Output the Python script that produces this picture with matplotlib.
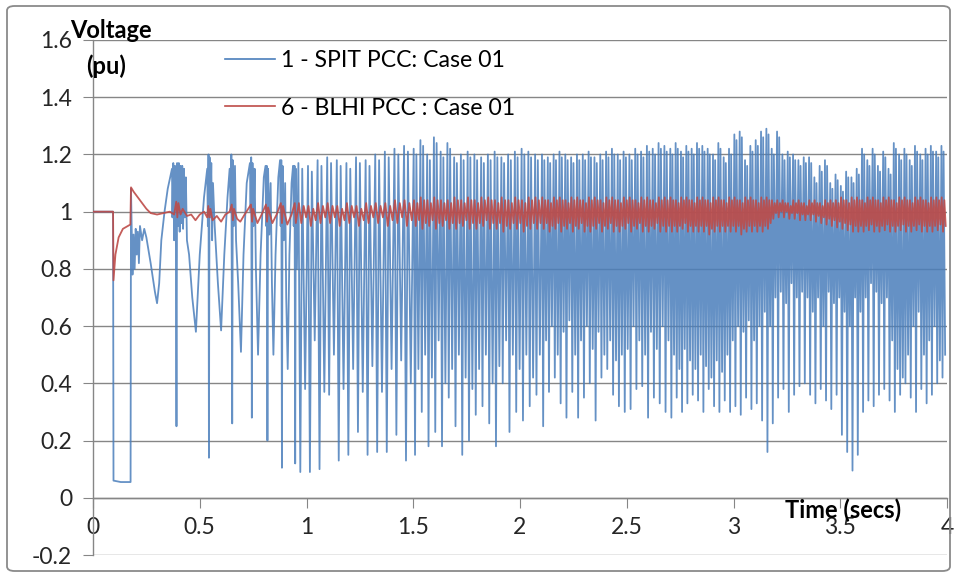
import numpy as np
import matplotlib
matplotlib.use("Agg")
import matplotlib.pyplot as plt
from matplotlib.patches import FancyBboxPatch

plt.rcParams['font.family'] = ['Lato', 'DejaVu Sans']

# ---------------- DATA ----------------
series_names = ["1 - SPIT PCC: Case 01", "6 - BLHI PCC : Case 01"]
x_ticks = [0, 0.5, 1, 1.5, 2, 2.5, 3, 3.5, 4]
x_tick_labels = ["0", "0.5", "1", "1.5", "2", "2.5", "3", "3.5", "4"]
y_ticks = [-0.2, 0, 0.2, 0.4, 0.6, 0.8, 1.0, 1.2, 1.4, 1.6]
y_tick_labels = ["-0.2", "0", "0.2", "0.4", "0.6", "0.8", "1", "1.2", "1.4", "1.6"]

# SPIT PCC (blue) - start-up transient, read point by point
spit_early_t = [0, 0.094, 0.096, 0.13, 0.176, 0.178, 0.185, 0.19, 0.195, 0.2, 0.205, 0.21,
                0.215, 0.22, 0.23, 0.24, 0.25, 0.27, 0.29, 0.30, 0.31, 0.32, 0.335, 0.35, 0.37,
                0.372, 0.376, 0.38, 0.384, 0.388, 0.391, 0.394, 0.398, 0.402, 0.406, 0.41, 0.414,
                0.418, 0.422, 0.426, 0.43, 0.435, 0.44, 0.45, 0.465, 0.482,
                0.5, 0.52, 0.535, 0.538, 0.541, 0.543, 0.546, 0.55, 0.554, 0.558, 0.562, 0.57, 0.585, 0.6,
                0.615, 0.63, 0.64, 0.645, 0.648, 0.652, 0.655, 0.66, 0.665, 0.67, 0.68, 0.693,
                0.705, 0.72, 0.735, 0.738, 0.741, 0.744, 0.747, 0.752, 0.757, 0.763, 0.773,
                0.785, 0.8, 0.808, 0.811, 0.814, 0.817, 0.82, 0.826, 0.832, 0.838, 0.845,
                0.855, 0.868, 0.876, 0.879, 0.882, 0.885, 0.888, 0.894, 0.9, 0.905, 0.912,
                0.92, 0.93, 0.937, 0.94, 0.944, 0.947, 0.95, 0.955]
spit_early_v = [1.0, 1.0, 0.06, 0.055, 0.055, 1.08, 0.78, 0.92, 0.80, 0.94, 0.85, 0.93,
                0.82, 0.95, 0.90, 0.94, 0.91, 0.82, 0.72, 0.68, 0.75, 0.90, 1.0, 1.08, 1.15,
                0.98, 1.17, 0.90, 1.16, 0.97, 0.25, 1.17, 0.95, 1.17, 0.93, 1.16, 0.96,
                1.16, 0.94, 1.15, 0.98, 1.12, 0.90, 0.85, 0.70, 0.58,
                0.85, 1.05, 1.15, 0.95, 1.20, 0.14, 1.19, 0.98, 1.17, 0.90, 1.10, 0.95, 0.75, 0.585,
                0.85, 1.05, 1.15, 1.0, 1.20, 0.26, 1.18, 0.95, 1.16, 0.90, 0.75, 0.51,
                0.85, 1.10, 1.17, 1.0, 1.19, 0.28, 1.17, 0.95, 1.15, 0.80, 0.50,
                0.85, 1.12, 1.16, 0.95, 1.16, 0.20, 1.15, 0.92, 1.10, 0.75, 0.50,
                0.85, 1.12, 1.18, 0.95, 1.18, 0.105, 1.16, 0.90, 1.10, 0.70, 0.45,
                0.85, 1.10, 1.16, 0.95, 1.16, 0.12, 1.15, 0.80]

# BLHI PCC (red) - start-up transient
blhi_early_t = [0, 0.094, 0.096, 0.105, 0.12, 0.14, 0.175, 0.178, 0.19, 0.2, 0.22, 0.25, 0.27,
                0.3, 0.33, 0.36, 0.38, 0.39, 0.395, 0.4, 0.41, 0.42, 0.44, 0.46, 0.48, 0.5,
                0.52, 0.535, 0.54, 0.545, 0.55, 0.56, 0.58, 0.6, 0.62, 0.64, 0.65, 0.655,
                0.66, 0.675, 0.69, 0.71, 0.74, 0.745, 0.75, 0.77, 0.79, 0.81, 0.815, 0.82,
                0.84, 0.86, 0.88, 0.885, 0.89, 0.91, 0.93, 0.945, 0.95]
blhi_early_v = [1.0, 1.0, 0.76, 0.85, 0.91, 0.94, 0.955, 1.085, 1.07, 1.06, 1.04, 1.01, 0.995,
                0.99, 0.995, 1.0, 0.99, 1.035, 0.98, 1.03, 0.99, 1.01, 0.985, 0.99, 0.97, 0.99,
                1.0, 0.98, 1.02, 0.98, 1.01, 0.97, 0.985, 0.965, 0.99, 1.0, 1.025, 0.97,
                1.01, 0.975, 0.965, 0.99, 1.025, 0.965, 1.01, 0.96, 0.99, 1.025, 0.965, 1.015,
                0.96, 0.99, 1.03, 0.96, 1.02, 0.955, 0.99, 1.03, 0.96]

# Sustained oscillation, five stretches: start time and cycle length of each
seg_start = [0.962, 1.502, 2.103, 2.704, 3.354]
seg_period = [0.045, 0.0316, 0.0273, 0.025, 0.0248]

# per cycle: peak, deep trough, mid dip (blue); high and low (red)
spit_peak_1 = [1.17, 1.16, 1.18, 1.19, 1.18, 1.17, 1.19, 1.18, 1.20, 1.21, 1.22, 1.23]
spit_deep_1 = [0.09, 0.09, 0.10, 0.36, 0.13, 0.15, 0.23, 0.15, 0.16, 0.16, 0.22, 0.13]
spit_mid_1 = [0.38, 0.55, 0.37, 0.50, 0.38, 0.45, 0.37, 0.46, 0.37, 0.45, 0.48, 0.40]
blhi_hi_1 = [1.03, 1.02, 1.03, 1.03, 1.02, 1.03, 1.02, 1.03, 1.03, 1.03, 1.04, 1.04]
blhi_lo_1 = [0.96, 0.95, 0.96, 0.96, 0.95, 0.96, 0.95, 0.96, 0.96, 0.95, 0.96, 0.95]

spit_peak_2 = [1.22, 1.25, 1.20, 1.26, 1.21, 1.24, 1.19, 1.20, 1.21, 1.20, 1.19, 1.20, 1.21, 1.19, 1.20,
               1.21, 1.22, 1.21, 1.20]
spit_deep_2 = [0.15, 0.30, 0.18, 0.23, 0.18, 0.35, 0.25, 0.15, 0.20, 0.29, 0.32, 0.26, 0.18, 0.40, 0.23,
               0.30, 0.27, 0.32, 0.36]
spit_mid_2 = [0.45, 0.50, 0.42, 0.55, 0.40, 0.45, 0.50, 0.42, 0.38, 0.45, 0.50, 0.40, 0.46, 0.55, 0.50,
              0.45, 0.50, 0.42, 0.50]
blhi_hi_2 = [1.04, 1.05, 1.04, 1.05, 1.04, 1.04, 1.05, 1.04, 1.05, 1.04, 1.05, 1.05, 1.04, 1.05, 1.04,
             1.05, 1.04, 1.05, 1.05]
blhi_lo_2 = [0.95, 0.94, 0.95, 0.94, 0.95, 0.94, 0.94, 0.95, 0.94, 0.94, 0.95, 0.94, 0.94, 0.93, 0.94,
             0.94, 0.93, 0.94, 0.94]

spit_peak_3 = [1.20, 1.19, 1.20, 1.21, 1.20, 1.19, 1.20, 1.20, 1.21, 1.19, 1.20, 1.21, 1.22, 1.20, 1.21,
               1.20, 1.22, 1.21, 1.23, 1.22, 1.24, 1.23]
spit_deep_3 = [0.25, 0.37, 0.42, 0.33, 0.28, 0.37, 0.28, 0.35, 0.40, 0.27, 0.42, 0.45, 0.36, 0.32, 0.30,
               0.31, 0.38, 0.39, 0.28, 0.35, 0.33, 0.30]
spit_mid_3 = [0.55, 0.60, 0.50, 0.58, 0.62, 0.50, 0.55, 0.60, 0.52, 0.58, 0.50, 0.55, 0.48, 0.50, 0.52,
              0.60, 0.55, 0.50, 0.58, 0.52, 0.60, 0.55]
blhi_hi_3 = [1.05, 1.04, 1.05, 1.05, 1.04, 1.05, 1.05, 1.04, 1.05, 1.05, 1.04, 1.05, 1.05, 1.04, 1.05,
             1.05, 1.04, 1.05, 1.05, 1.04, 1.05, 1.05]
blhi_lo_3 = [0.94, 0.93, 0.94, 0.93, 0.94, 0.93, 0.94, 0.93, 0.93, 0.94, 0.93, 0.94, 0.93, 0.93, 0.94,
             0.93, 0.94, 0.93, 0.93, 0.94, 0.93, 0.93]

spit_peak_4 = [1.22, 1.24, 1.21, 1.23, 1.22, 1.24, 1.23, 1.22, 1.20, 1.24, 1.19, 1.22, 1.27, 1.28, 1.18,
               1.23, 1.25, 1.28, 1.29, 1.22, 1.28, 1.20, 1.21, 1.20, 1.18, 1.19]
spit_deep_4 = [0.28, 0.35, 0.30, 0.33, 0.36, 0.34, 0.30, 0.38, 0.32, 0.30, 0.34, 0.30, 0.32, 0.29, 0.35,
               0.31, 0.33, 0.27, 0.16, 0.26, 0.35, 0.38, 0.30, 0.36, 0.39, 0.40]
spit_mid_4 = [0.50, 0.45, 0.52, 0.48, 0.45, 0.50, 0.46, 0.42, 0.48, 0.44, 0.50, 0.55, 0.60, 0.58, 0.62,
              0.55, 0.60, 0.65, 0.60, 0.70, 0.72, 0.68, 0.75, 0.70, 0.72, 0.70]
blhi_hi_4 = [1.05, 1.04, 1.05, 1.05, 1.04, 1.05, 1.05, 1.04, 1.05, 1.05, 1.04, 1.05, 1.05, 1.04, 1.05,
             1.05, 1.04, 1.05, 1.05, 1.04, 1.04, 1.04, 1.03, 1.04, 1.04, 1.03]
blhi_lo_4 = [0.93, 0.93, 0.94, 0.93, 0.93, 0.93, 0.93, 0.92, 0.93, 0.93, 0.93, 0.93, 0.93, 0.92, 0.93,
             0.93, 0.93, 0.93, 0.94, 0.975, 0.98, 0.98, 0.975, 0.975, 0.97, 0.97]

spit_peak_5 = [1.19, 1.12, 1.16, 1.18, 1.10, 1.13, 1.09, 1.14, 1.12, 1.15, 1.22, 1.18, 1.22, 1.16, 1.21,
               1.15, 1.24, 1.20, 1.22, 1.18, 1.23, 1.20, 1.22, 1.23, 1.21, 1.23]
spit_deep_5 = [0.36, 0.33, 0.38, 0.34, 0.31, 0.36, 0.22, 0.16, 0.095, 0.15, 0.30, 0.34, 0.32, 0.36, 0.38,
               0.34, 0.30, 0.36, 0.40, 0.35, 0.30, 0.38, 0.33, 0.36, 0.40, 0.42]
spit_mid_5 = [0.65, 0.70, 0.60, 0.72, 0.68, 0.70, 0.65, 0.60, 0.70, 0.65, 0.70, 0.75, 0.72, 0.68, 0.70,
              0.55, 0.45, 0.42, 0.50, 0.60, 0.65, 0.50, 0.55, 0.60, 0.48, 0.50]
blhi_hi_5 = [1.04, 1.04, 1.03, 1.04, 1.04, 1.04, 1.05, 1.04, 1.05, 1.05, 1.04, 1.05, 1.05, 1.04, 1.05,
             1.05, 1.04, 1.05, 1.05, 1.04, 1.05, 1.05, 1.04, 1.05, 1.05, 1.05]
blhi_lo_5 = [0.97, 0.965, 0.96, 0.955, 0.95, 0.945, 0.94, 0.935, 0.93, 0.93, 0.93, 0.935, 0.93, 0.93, 0.935,
             0.93, 0.93, 0.935, 0.93, 0.93, 0.935, 0.93, 0.93, 0.93, 0.935, 0.93]

spit_peaks = [spit_peak_1, spit_peak_2, spit_peak_3, spit_peak_4, spit_peak_5]
spit_deeps = [spit_deep_1, spit_deep_2, spit_deep_3, spit_deep_4, spit_deep_5]
spit_mids = [spit_mid_1, spit_mid_2, spit_mid_3, spit_mid_4, spit_mid_5]
blhi_his = [blhi_hi_1, blhi_hi_2, blhi_hi_3, blhi_hi_4, blhi_hi_5]
blhi_los = [blhi_lo_1, blhi_lo_2, blhi_lo_3, blhi_lo_4, blhi_lo_5]

# ---------------- assemble traces ----------------
spit_t = list(spit_early_t)
spit_v = list(spit_early_v)
blhi_t = list(blhi_early_t)
blhi_v = list(blhi_early_v)
for s0, P, pk, dp, md, hi, lo in zip(seg_start, seg_period, spit_peaks, spit_deeps, spit_mids,
                                     blhi_his, blhi_los):
    for i in range(len(pk)):
        t0 = s0 + i * P
        spit_t += [t0, t0 + 0.2 * P, t0 + 0.4 * P, t0 + 0.7 * P]
        spit_v += [pk[i], dp[i], pk[i] - 0.02, md[i]]
        blhi_t += [t0 + 0.05 * P, t0 + 0.3 * P, t0 + 0.55 * P, t0 + 0.8 * P]
        blhi_v += [hi[i], lo[i], hi[i] - 0.01, lo[i] + 0.02]

# ---------------- figure ----------------
W, H = 956, 577
fig = plt.figure(figsize=(W / 100, H / 100), dpi=100)
fig.patch.set_facecolor('white')
x0, x1, ytop, ybot = 93, 947, 40, 555
ax = fig.add_axes([x0 / W, 1 - ybot / H, (x1 - x0) / W, (ybot - ytop) / H])

grid_c = '#868686'
blue = '#4A7EBB'
red = '#BE4B48'

l1, = ax.plot(spit_t, spit_v, color=blue, lw=1.3, alpha=0.85, label=series_names[0], zorder=3)
l2, = ax.plot(blhi_t, blhi_v, color=red, lw=1.3, alpha=0.9, label=series_names[1], zorder=4)

ax.set_xlim(0, 4)
ax.set_ylim(-0.2, 1.6)
ax.set_yticks(y_ticks)
ax.set_yticklabels(y_tick_labels)
ax.set_xticks(x_ticks)
ax.set_xticklabels(x_tick_labels)
ax.yaxis.grid(True, color=grid_c, lw=1.0, zorder=0)
ax.set_axisbelow(True)
for s in ['top', 'right']:
    ax.spines[s].set_visible(False)
ax.spines['left'].set_color(grid_c)
ax.spines['bottom'].set_color(grid_c)
ax.spines['bottom'].set_position(('data', 0))
ax.spines['left'].set_linewidth(1.0)
ax.spines['bottom'].set_linewidth(1.0)
ax.tick_params(axis='y', direction='out', length=7, color=grid_c, labelsize=16.5,
               labelcolor='#262626', pad=8)
ax.tick_params(axis='x', direction='out', length=7, color=grid_c, labelsize=16.5,
               labelcolor='#262626', pad=7)

fig.text(70 / W, 1 - 30 / H, 'Voltage', fontsize=17, fontweight='bold', ha='left', va='center')
fig.text(86 / W, 1 - 66 / H, '(pu)', fontsize=17, fontweight='bold', ha='left', va='center')
fig.text(785 / W, 1 - 510 / H, 'Time (secs)', fontsize=17, fontweight='bold', ha='left', va='center')

leg = fig.legend(handles=[l1, l2], loc='upper left', bbox_to_anchor=(225 / W, 1 - 50 / H),
                 frameon=False, fontsize=16.6, handlelength=2.17, handletextpad=0.26,
                 labelspacing=1.15, borderaxespad=0, borderpad=0)
for h in leg.legend_handles:
    h.set_alpha(1.0)
    h.set_linewidth(1.2)

border = FancyBboxPatch((7 / W, 6 / H), (W - 13) / W, (H - 12) / H,
                        boxstyle='round,pad=0,rounding_size=0.008', transform=fig.transFigure,
                        fill=False, edgecolor='#8a8a8a', lw=1.3)
fig.patches.append(border)

fig.savefig('out.png', dpi=100)
